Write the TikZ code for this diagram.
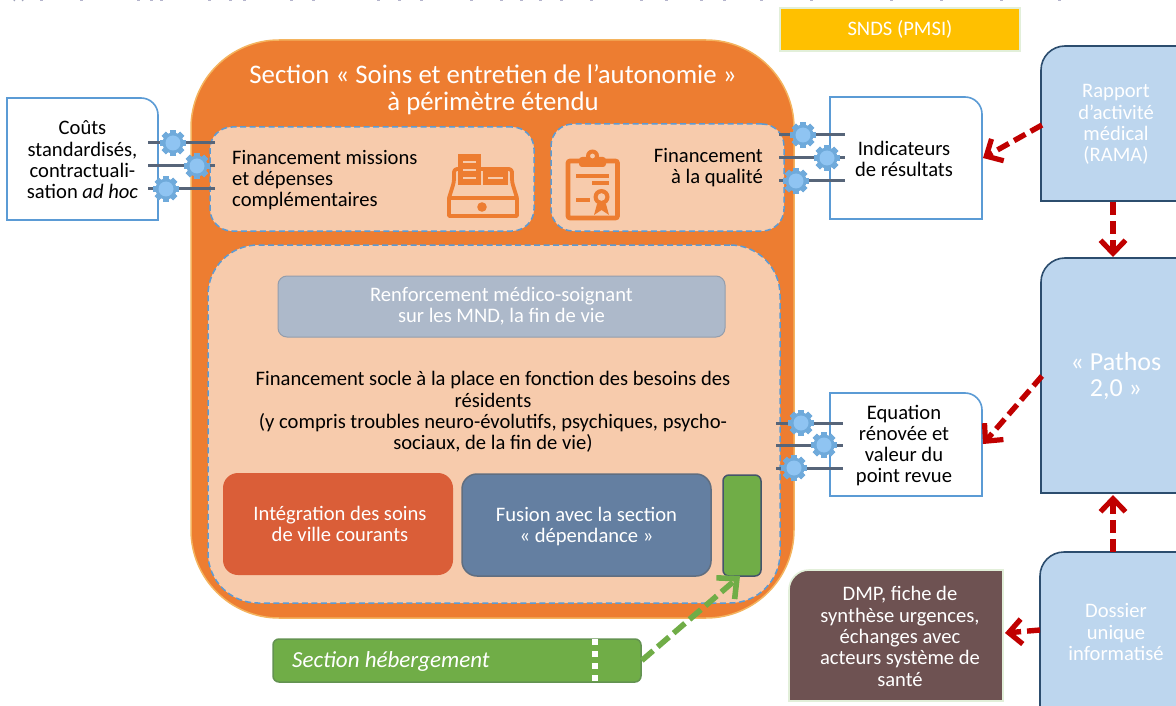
\documentclass[tikz,border=0pt]{standalone}
\usepackage{fontspec}
\setmainfont{Carlito}
\usetikzlibrary{arrows.meta}
\definecolor{orangeM}{HTML}{ED7D31}
\definecolor{orangeL}{HTML}{F4B45F}
\definecolor{peach}{HTML}{F7CBAC}
\definecolor{dashB}{HTML}{5B9BD5}
\definecolor{paleB}{HTML}{BDD6EE}
\definecolor{navy}{HTML}{2C4D6E}
\definecolor{redD}{HTML}{C00000}
\definecolor{greenM}{HTML}{70AD47}
\definecolor{slate}{HTML}{44546A}
\definecolor{brownD}{HTML}{6E5252}
\definecolor{grayB}{HTML}{ADB9CA}
\definecolor{redO}{HTML}{DA5E38}
\definecolor{blueS}{HTML}{647FA1}
\definecolor{gearO}{HTML}{6FAADB}
\definecolor{gearI}{HTML}{8FC4F2}
\definecolor{gold}{HTML}{FFC000}
\definecolor{paleG}{HTML}{E2EFD9}
\definecolor{titleC}{HTML}{B4B4CC}
\tikzset{
  x=1pt,y=-1pt,
  lab/.style={font=\fontsize{20.6}{21.3}\selectfont,align=center,inner sep=0pt,text=black},
  wlab/.style={lab,text=white},
  zone/.style={fill=peach,draw=dashB,line width=1.5pt,dash pattern=on 6pt off 3.5pt,rounded corners=22pt},
  whitebox/.style={fill=white,draw=dashB,line width=1.6pt},
  paleblue/.style={fill=paleB,draw=navy,line width=1.6pt},
  link/.style={draw=slate!90!white,line width=3pt},
  redarrow/.style={draw=redD,line width=5.4pt,dash pattern=on 13pt off 6pt,-{Straight Barb[length=13pt,width=25pt,line width=5.2pt]}},
  greenarrow/.style={draw=greenM,line width=5.6pt,dash pattern=on 15pt off 6pt,-{Straight Barb[length=15pt,width=28pt,line width=5.6pt]}},
  iconline/.style={draw=orangeM,line width=3.8pt,line join=round},
  gearpic/.pic={
    \foreach \a in {0,45,...,315}{\fill[gearO,rotate=\a] (-3,-13) rectangle (3,13);}
    \fill[gearO] (0,0) circle (10.5);
    \fill[gearI] (0,0) circle (7.5);
  }
}
\begin{document}
\begin{tikzpicture}
\useasboundingbox (0,0) rectangle (1176,706);
\fill[white] (0,0) rectangle (1176,706);
% clipped line above the figure
\draw[titleC!80!slate,line width=1.3pt] (14,1) arc[start angle=180,end angle=360,x radius=4.5,y radius=3.5];
\foreach \x in {40,80,137,150,160,208,229,243,290,312,377,398,420,470,500,520,539,560,590,640,665,700,723,760,810,890,940,1000,1058}{
  \fill[titleC] (\x,0) rectangle ++(3,1.2);}
% SNDS
\node[fill=gold,draw=paleG,line width=1.6pt,minimum width=240pt,minimum height=43pt,inner sep=0pt,wlab] (snds) at (900,29.5) {SNDS (PMSI)};
% Outer section
\node[fill=orangeM,draw=orangeL,line width=1.5pt,rounded corners=88pt,minimum width=603pt,minimum height=578pt,inner sep=0pt] (section) at (492.5,329) {};
\node[wlab,font=\fontsize{26.8}{27}\selectfont] (titre) at (493,90) {Section « Soins et entretien de l’autonomie »\\à périmètre étendu};
% Zones
\node[zone,minimum width=324pt,minimum height=104pt,inner sep=0pt] (fmiss) at (372,179) {};
\node[zone,minimum width=233pt,minimum height=107pt,inner sep=0pt] (fqual) at (667.5,177.5) {};
\node[zone,rounded corners=50pt,minimum width=572pt,minimum height=358pt,inner sep=0pt] (socle) at (494,424) {};
\node[lab,align=left,anchor=west] (tmiss) at (232,180) {Financement missions\\et dépenses\\complémentaires};
\node[lab,align=right,anchor=east] (tqual) at (763,167.5) {Financement\\à la qualité};
% Cash register
\draw[iconline,rounded corners=3pt] (449,198) -- (454,182) -- (454,169) -- (512,169) -- (512,182) -- (517,198);
\draw[iconline] (449,198) rectangle (517,216);
\fill[orangeM] (458,154) rectangle (481,185);
\draw[peach,line width=1.3pt] (463,162) -- (476,162) (463,170) -- (476,170) (463,178) -- (476,178);
\fill[orangeM] (483,171) rectangle (508,185);
\draw[peach,line width=1.5pt] (488,178) -- (503,178);
\fill[orangeM] (482,207) circle (4.8);
% Clipboard
\draw[orangeM,line width=4.6pt,rounded corners=2pt] (568,161) rectangle (617.5,218);
\fill[orangeM,rounded corners=3pt] (579,157) rectangle (606,167);
\fill[orangeM] (592.5,156) circle (6.5);
\fill[peach] (592.5,156) circle (2.4);
\fill[orangeM] (576,174) rectangle (609,178.5);
\fill[orangeM] (592,181) rectangle (609,185.5);
\fill[orangeM] (576,198) rectangle (590,202.5);
\fill[orangeM] (594,215) -- (597,204) -- (606,204) -- (609,215) -- (601.5,210) -- cycle;
\fill[orangeM] (601.5,197) circle (8);
\fill[peach] (601.5,197) circle (3.8);
% Inner boxes
\node[fill=grayB,draw=grayB!85!black,line width=1pt,rounded corners=9pt,minimum width=447pt,minimum height=61pt,inner sep=0pt,wlab] (renf) at (501.5,306.5) {Renforcement médico-soignant\\sur les MND, la fin de vie};
\node[lab] (tsocle) at (493,412) {Financement socle à la place en fonction des besoins des\\résidents\\(y compris troubles neuro-évolutifs, psychiques, psycho-\\sociaux, de la fin de vie)};
\node[fill=redO,rounded corners=15pt,minimum width=230pt,minimum height=102pt,inner sep=0pt] (integ) at (338,524) {};
\node[wlab] (tinteg) at (340,524) {Intégration des soins\\de ville courants};
\node[fill=blueS,draw=slate!85,line width=1.5pt,rounded corners=15pt,minimum width=249pt,minimum height=102pt,inner sep=0pt] (fusion) at (586.5,525) {};
\node[wlab] (tfusion) at (586.5,526.5) {Fusion avec la section\\« dépendance »};
\node[fill=greenM,draw=slate,line width=1.5pt,rounded corners=6pt,minimum width=38pt,minimum height=101pt,inner sep=0pt] (heb) at (742,525.5) {};
% Section hebergement
\node[fill=greenM,draw=greenM!70!slate,line width=1.5pt,rounded corners=6pt,minimum width=368pt,minimum height=43pt,inner sep=0pt] (sech) at (457,660.5) {};
\node[wlab,anchor=west,font=\fontsize{23}{24}\selectfont\itshape] (tsech) at (292,661) {Section hébergement};
\draw[white,line width=5.5pt,dash pattern=on 6pt off 6pt] (595,639) -- (595,682);
\coordinate (hebin) at (740,576);
\draw[greenarrow] (sech.east) -- (hebin);
% White boxes
\path[whitebox] (7,220) -- (7,98) -- (141,98) arc[start angle=-90,end angle=0,radius=17] -- (158,220) -- cycle;
\node[lab,minimum width=151pt] (couts) at (82.5,160) {Coûts\\standardisés,\\contractuali-\\sation \emph{ad hoc}};
\path[whitebox] (830,219) -- (830,97) -- (965,97) arc[start angle=-90,end angle=0,radius=17] -- (982,219) -- cycle;
\node[lab,minimum width=152pt] (indic) at (904,159) {Indicateurs\\de résultats};
\path[whitebox] (830,496) -- (830,393) -- (965,393) arc[start angle=-90,end angle=0,radius=17] -- (982,496) -- cycle;
\node[lab,minimum width=152pt] (equa) at (904,445.5) {Equation\\rénovée et\\valeur du\\point revue};
% Gears and links
\foreach \n/\y/\g in {a/143/173,b/166/197,c/189/166}{
  \coordinate (l\n1) at (148,\y); \coordinate (l\n2) at (215,\y);
  \draw[link] (l\n1) -- (l\n2);
  \pic at (\g,\y) {gearpic};
}
\foreach \n/\y/\g in {a/135/803,b/158/827,c/181/796}{
  \coordinate (m\n1) at (779,\y); \coordinate (m\n2) at (845,\y);
  \draw[link] (m\n1) -- (m\n2);
  \pic at (\g,\y) {gearpic};
}
\foreach \n/\y/\g in {a/423/801,b/445/824,c/468/794}{
  \coordinate (r\n1) at (776,\y); \coordinate (r\n2) at (843,\y);
  \draw[link] (r\n1) -- (r\n2);
  \pic at (\g,\y) {gearpic};
}
% Right blue boxes
\path[paleblue] (1200,201) -- (1041,201) -- (1041,70) arc[start angle=180,end angle=270,radius=24] -- (1200,46);
\node[wlab,minimum width=150pt] (rama) at (1116,124.5) {Rapport\\d’activité\\médical\\(RAMA)};
\path[paleblue] (1200,493) -- (1041,493) -- (1041,282) arc[start angle=180,end angle=270,radius=24] -- (1200,258);
\node[wlab,font=\fontsize{26}{26}\selectfont,minimum width=150pt] (pathos) at (1116,376) {« Pathos\\2,0 »};
\path[paleblue] (1200,720) -- (1040,720) -- (1040,576) arc[start angle=180,end angle=270,radius=24] -- (1200,552);
\node[wlab,minimum width=150pt] (dossier) at (1116,632) {Dossier\\unique\\informatisé};
% DMP
\path[fill=brownD,draw=paleG,line width=1.6pt] (789,701) -- (789,590) arc[start angle=180,end angle=270,radius=20] -- (1003,570) -- (1003,701) -- cycle;
\node[wlab,minimum width=214pt] (dmp) at (900,636.5) {DMP, fiche de\\synthèse urgences,\\échanges avec\\acteurs système de\\santé};
% Red arrows
\coordinate (ramaL) at (1042,125); \coordinate (indicR) at (983,158);
\coordinate (ramaB) at (1113,202); \coordinate (pathosT) at (1113,257);
\coordinate (pathosL) at (1042,376); \coordinate (equaR) at (983,444);
\coordinate (dosT) at (1113,552); \coordinate (pathosB) at (1113,495);
\coordinate (dosL) at (1040,630); \coordinate (dmpR) at (1005,633);
\draw[redarrow] (ramaL) -- (indicR);
\draw[redarrow] (ramaB) -- (pathosT);
\draw[redarrow] (pathosL) -- (equaR);
\draw[redarrow] (dosT) -- (pathosB);
\draw[redarrow] (dosL) -- (dmpR);
\end{tikzpicture}
\end{document}
